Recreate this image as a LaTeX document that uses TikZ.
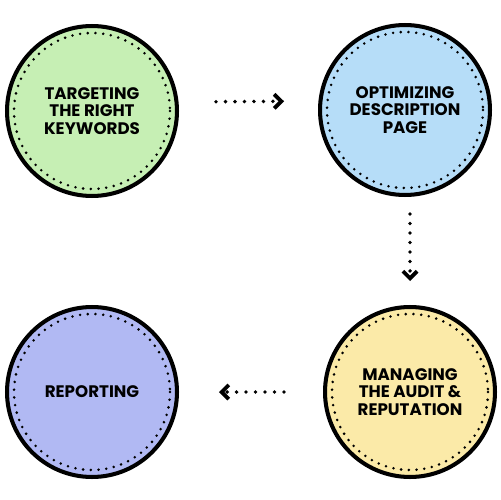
\documentclass[tikz,border=0pt]{standalone}
\usepackage{fontspec}
\setmainfont{Poppins}
\usetikzlibrary{arrows.meta}

\definecolor{kwgreen}{HTML}{C6EFB4}
\definecolor{descblue}{HTML}{B6DDF8}
\definecolor{auditgold}{HTML}{FBEAA8}
\definecolor{reppurple}{HTML}{B1B9F3}

\begin{document}
\begin{tikzpicture}[x=0.02cm, y=-0.02cm]
        % Step style definitions
        \tikzset{
            stepdisc/.style={circle, draw=black, line width=2.3pt, minimum size=3.4cm,
                inner sep=0pt, align=center, font=\bfseries\fontsize{9.5}{10}\selectfont},
            dotring/.style={line width=1.6pt, line cap=round, dash pattern=on 0pt off 4.4pt},
            flow/.style={line width=2.2pt, line cap=round, dash pattern=on 0pt off 5.4pt,
                -{Straight Barb[length=4pt, width=8pt, line width=2.2pt]}}
        }
        \useasboundingbox (0,0) rectangle (500,500);

        % ==========================================
        % STEPS
        % ==========================================
        \node[stepdisc, fill=kwgreen]   (kw)    at (92,111)  {TARGETING\\THE RIGHT\\KEYWORDS};
        \node[stepdisc, fill=descblue]  (desc)  at (405,110) {OPTIMIZING\\DESCRIPTION\\PAGE};
        \node[stepdisc, fill=auditgold] (audit) at (410,392) {MANAGING\\THE AUDIT \&\\REPUTATION};
        \node[stepdisc, fill=reppurple] (rep)   at (92,392)  {REPORTING};

        % Dotted inner rings
        \foreach \s in {kw, desc, audit, rep}
            \draw[dotring] (\s) circle (78);

        % ==========================================
        % FLOW ARROWS
        % ==========================================
        \draw[flow, shorten <=0.74cm, shorten >=0.68cm]
            ([yshift=9*0.02cm]kw.east) -- ([yshift=9*0.02cm]desc.west);
        \draw[flow, shorten <=0.34cm, shorten >=0.48cm]
            ([xshift=5*0.02cm]desc.south) -- (audit.north);
        \draw[flow, shorten <=0.78cm, shorten >=0.8cm]
            (audit.west) -- (rep.east);

    \end{tikzpicture}
\end{document}
